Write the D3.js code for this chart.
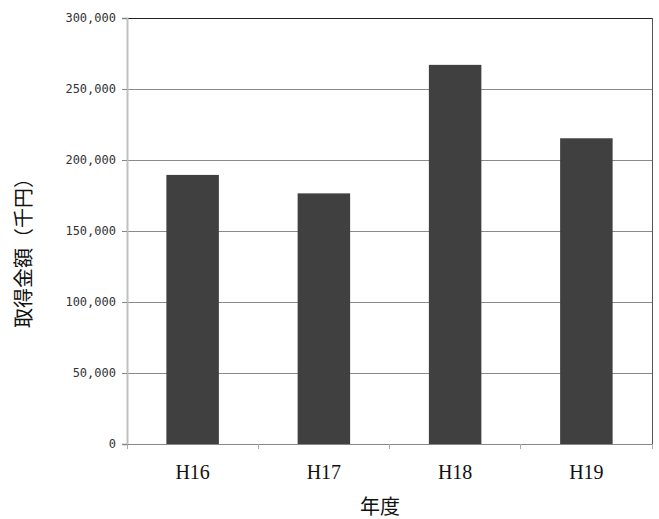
<!DOCTYPE html>
<html>
<head>
<meta charset="utf-8">
<script src="https://cdn.jsdelivr.net/npm/d3@7"></script>
<style>
  html, body { margin: 0; padding: 0; background: #fff; }
  svg { display: block; }
</style>
</head>
<body>
<svg id="chart" width="659" height="519"></svg>
<script>
// Acquisition amount by fiscal year (thousand yen)
const categories = ["H16", "H17", "H18", "H19"];
const values = [189500, 176500, 267000, 215300];
const yTicks = [0, 50000, 100000, 150000, 200000, 250000, 300000];
const xTitle = "年度";
const yTitle = "取得金額（千円）";

const svg = d3.select("#chart");
const m = { left: 127, right: 652, top: 18, bottom: 444 };

const x = d3.scaleBand()
  .domain(categories)
  .range([m.left, m.right])
  .paddingInner(0.6)
  .paddingOuter(0.3);

const y = d3.scaleLinear()
  .domain([0, 300000])
  .range([m.bottom, m.top]);

// Horizontal gridlines
svg.append("g")
  .selectAll("line")
  .data(yTicks.filter(d => d > 0 && d < 300000))
  .join("line")
  .attr("x1", m.left).attr("x2", m.right)
  .attr("y1", d => y(d)).attr("y2", d => y(d))
  .attr("stroke", "#8a8a8a").attr("stroke-width", 1)
  .attr("shape-rendering", "crispEdges");

// Plot frame: top and right edges
svg.append("line")
  .attr("x1", m.left).attr("x2", m.right)
  .attr("y1", m.top).attr("y2", m.top)
  .attr("stroke", "#222").attr("shape-rendering", "crispEdges");
svg.append("line")
  .attr("x1", m.right).attr("x2", m.right)
  .attr("y1", m.top).attr("y2", m.bottom)
  .attr("stroke", "#555").attr("shape-rendering", "crispEdges");

// Bars
svg.append("g")
  .selectAll("rect")
  .data(values)
  .join("rect")
  .attr("x", (d, i) => x(categories[i]))
  .attr("width", x.bandwidth())
  .attr("y", d => y(d))
  .attr("height", d => y(0) - y(d))
  .attr("fill", "#404040");

// Y axis
const yAxis = d3.axisLeft(y)
  .tickValues(yTicks)
  .tickSize(5)
  .tickPadding(6)
  .tickFormat(d3.format(","));
const gy = svg.append("g")
  .attr("transform", `translate(${m.left},0)`)
  .call(yAxis);
gy.select(".domain").attr("stroke", "#c0c0c0").attr("stroke-width", 2);
gy.selectAll(".tick line").attr("stroke", "#888").attr("shape-rendering", "crispEdges");
gy.selectAll(".tick text")
  .attr("font-family", "'DejaVu Sans Mono', monospace")
  .attr("font-size", 12)
  .attr("fill", "#333");

// X axis with boundary ticks between categories
const gx = svg.append("g")
  .attr("transform", `translate(0,${m.bottom})`);
gx.append("line")
  .attr("x1", m.left).attr("x2", m.right)
  .attr("stroke", "#888").attr("shape-rendering", "crispEdges");
const step = (m.right - m.left) / categories.length;
gx.selectAll("line.tk")
  .data(d3.range(categories.length + 1))
  .join("line")
  .attr("class", "tk")
  .attr("x1", i => m.left + i * step).attr("x2", i => m.left + i * step)
  .attr("y1", 0).attr("y2", 5)
  .attr("stroke", "#aaa").attr("shape-rendering", "crispEdges");
gx.selectAll("text")
  .data(categories)
  .join("text")
  .attr("x", d => x(d) + x.bandwidth() / 2)
  .attr("y", 35)
  .attr("text-anchor", "middle")
  .attr("font-family", "'Liberation Serif', serif")
  .attr("font-size", 20)
  .attr("fill", "#111")
  .text(d => d);

// Axis titles
svg.append("text")
  .attr("x", 380).attr("y", 514)
  .attr("text-anchor", "middle")
  .attr("font-family", "'Noto Sans CJK JP', sans-serif")
  .attr("font-size", 20)
  .attr("fill", "#111")
  .text(xTitle);

svg.append("text")
  .attr("transform", "translate(31,248) rotate(-90)")
  .attr("text-anchor", "middle")
  .attr("font-family", "'Noto Sans CJK JP', sans-serif")
  .attr("font-size", 20)
  .attr("fill", "#111")
  .text(yTitle);
</script>
</body>
</html>
